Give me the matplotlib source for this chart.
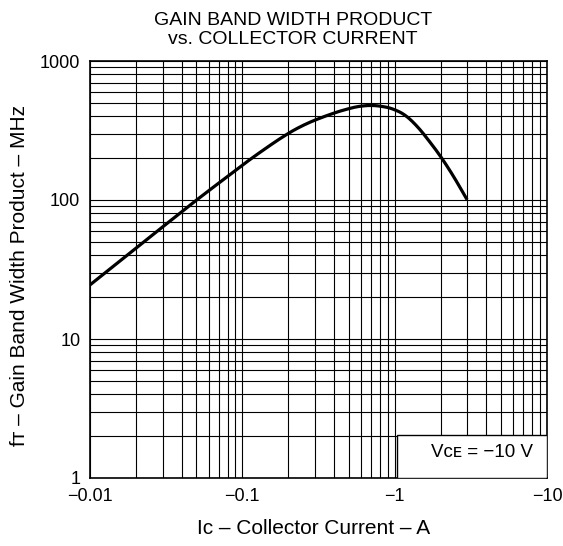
import matplotlib
matplotlib.use('Agg')
import matplotlib.pyplot as plt
from matplotlib.patches import Rectangle
from matplotlib.ticker import FixedLocator, NullFormatter
import numpy as np

plt.rcParams['font.family'] = ['Liberation Sans', 'DejaVu Sans']

# collector current magnitude (A) and gain bandwidth product (MHz)
ic = [0.01, 0.02, 0.05, 0.115, 0.186, 0.25, 0.36, 0.5, 0.65, 0.8, 1.06, 1.3, 1.67, 2.2, 2.95]
ft = [24.5, 45, 100, 200, 288, 347, 407, 457, 484, 478, 445, 380, 270, 180, 103]

x_ticks = [0.01, 0.1, 1, 10]
x_labels = ['\u22120.01', '\u22120.1', '\u22121', '\u221210']
y_ticks = [1, 10, 100, 1000]
y_labels = ['1', '10', '100', '1000']

fig = plt.figure(figsize=(5.63, 5.46), dpi=100)
ax = fig.add_axes([90 / 563, 1 - 478 / 546, 457 / 563, 417 / 546])
ax.set_xscale('log')
ax.set_yscale('log')
ax.set_xlim(0.01, 10)
ax.set_ylim(1, 1000)

# dense log grid: every 1..9 in each decade
minor_x = [m * 10.0 ** e for e in range(-2, 1) for m in range(2, 10)]
minor_y = [m * 10.0 ** e for e in range(0, 3) for m in range(2, 10)]
ax.xaxis.set_major_locator(FixedLocator(x_ticks))
ax.yaxis.set_major_locator(FixedLocator(y_ticks))
ax.xaxis.set_minor_locator(FixedLocator(minor_x))
ax.yaxis.set_minor_locator(FixedLocator(minor_y))
ax.xaxis.set_minor_formatter(NullFormatter())
ax.yaxis.set_minor_formatter(NullFormatter())
ax.set_xticklabels(x_labels)
ax.set_yticklabels(y_labels)
ax.grid(True, which='both', color='black', linewidth=0.8)
ax.tick_params(which='both', length=0, labelsize=13, pad=7)

for s in ax.spines.values():
    s.set_linewidth(1.2)

# smooth the curve in log space for drawing
lx = np.log10(ic)
ly = np.log10(ft)
xs = np.linspace(lx[0], lx[-1], 300)
ys = np.interp(xs, lx, ly)
k = np.ones(21) / 21
ys_s = np.convolve(np.pad(ys, 10, mode='reflect', reflect_type='odd'), k, mode='valid')
ax.plot(10 ** xs, 10 ** ys_s, color='black', linewidth=2.3, zorder=5)

# condition box in the lower right corner
ax.add_patch(Rectangle((1.03, 1), 10 - 1.03, 1.03, facecolor='white',
                       edgecolor='black', linewidth=1.0, zorder=6))
ax.text(0.97, 0.04, 'V\u1d04\u1d07 = \u221210 V', transform=ax.transAxes,
        ha='right', va='bottom', fontsize=13.5, zorder=7)

fig.text(314 / 563, 1 - 528 / 546, 'I\u1d04 \u2013 Collector Current \u2013 A',
         fontsize=15, ha='center', va='center')
fig.text(20 / 563, 1 - 276 / 546, 'f\u1d1b \u2013 Gain Band Width Product \u2013 MHz',
         fontsize=15, ha='center', va='center', rotation=90)
fig.text(293 / 563, 1 - 30 / 546, 'GAIN BAND WIDTH PRODUCT\nvs. COLLECTOR CURRENT',
         fontsize=14, ha='center', va='center', linespacing=1.15)

fig.savefig('out.png', dpi=100)
